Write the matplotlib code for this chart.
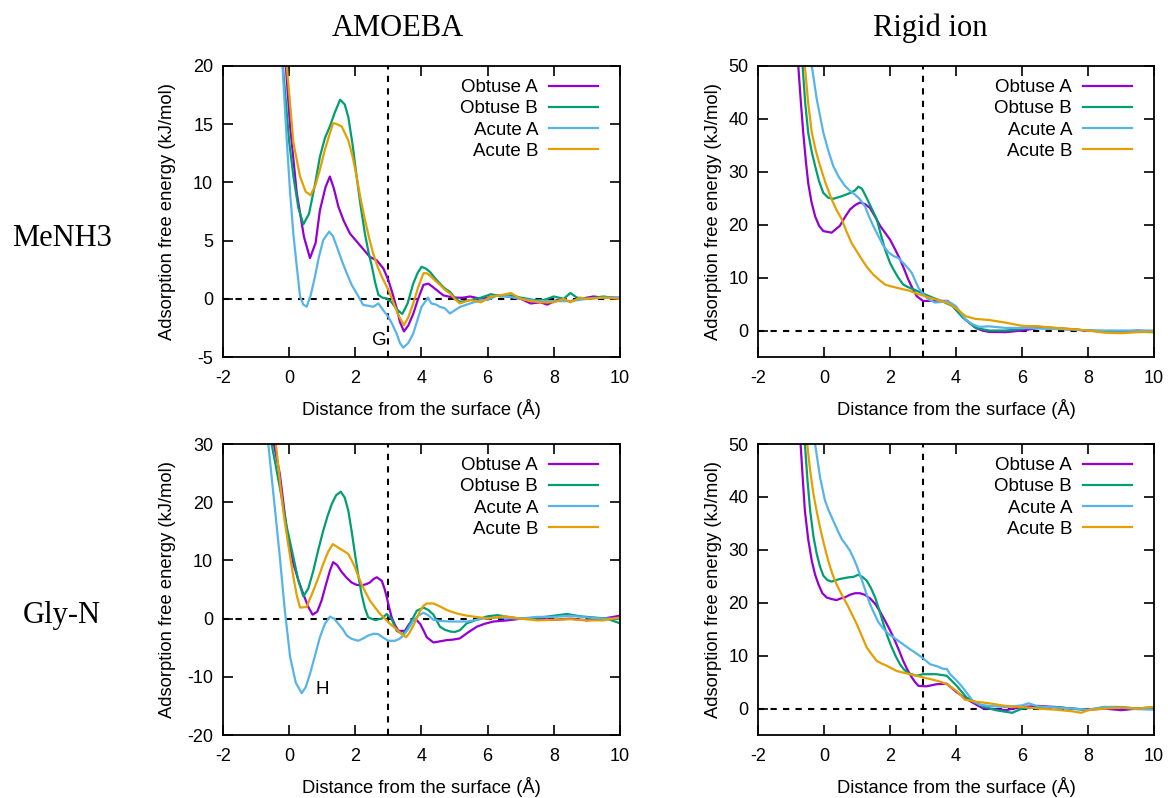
import matplotlib
matplotlib.use('Agg')
import matplotlib.pyplot as plt
import numpy as np

plt.rcParams['font.family'] = ['Liberation Sans', 'DejaVu Sans']
plt.rcParams['axes.unicode_minus'] = False

# 数据 (x, y) : AMOEBA / MeNH3
amoeba_me_obtA = [(-0.25, 28), (-0.10, 20), (0.03, 14.8), (0.23, 9.1), (0.45, 5.3), (0.63, 3.5), (0.80, 4.8),
                  (0.93, 7.6), (1.10, 9.6), (1.23, 10.5), (1.35, 9.5), (1.49, 7.9), (1.65, 6.7), (1.84, 5.6),
                  (2.14, 4.6), (2.44, 3.6), (2.65, 3.3), (2.85, 2.6), (3.00, 1.6), (3.12, 0.5), (3.25, -0.8),
                  (3.35, -2.0), (3.47, -2.8), (3.60, -2.3), (3.75, -1.3), (3.90, 0.0), (4.06, 1.2), (4.21, 1.3),
                  (4.35, 1.0), (4.46, 0.75), (4.66, 0.3), (4.86, 0.17), (5.06, 0.1), (5.26, 0.1), (5.47, 0.2),
                  (5.8, 0.0), (6.0, 0.1), (6.3, 0.3), (6.6, 0.2), (7.0, 0.0), (7.3, -0.4), (7.6, -0.3),
                  (7.8, -0.5), (8.1, -0.1), (8.5, -0.2), (8.8, 0.0), (9.2, 0.2), (9.5, 0.1), (10.0, 0.1)]
amoeba_me_obtB = [(-0.30, 28), (-0.19, 20), (0.0, 13.5), (0.13, 10.5), (0.28, 7.8), (0.43, 6.4), (0.60, 7.3),
                  (0.78, 9.8), (0.93, 12.2), (1.08, 13.8), (1.23, 14.8), (1.38, 16.0), (1.54, 17.1), (1.68, 16.7),
                  (1.79, 15.6), (1.92, 13.2), (2.04, 10.5), (2.16, 8.0), (2.29, 5.6), (2.40, 4.0), (2.50, 2.8),
                  (2.60, 1.4), (2.70, 0.33), (2.82, 0.1), (2.95, 0.04), (3.10, -0.3), (3.25, -0.9), (3.42, -1.3),
                  (3.58, -0.4), (3.75, 1.3), (3.88, 2.2), (4.0, 2.75), (4.13, 2.6), (4.26, 2.3), (4.40, 1.8),
                  (4.56, 1.3), (4.70, 0.9), (4.86, 0.6), (5.0, 0.1), (5.16, -0.26), (5.5, -0.1), (5.8, 0.1),
                  (6.1, 0.4), (6.4, 0.2), (6.7, 0.3), (7.0, 0.1), (7.4, -0.1), (7.7, -0.1), (8.0, 0.2),
                  (8.3, 0.0), (8.5, 0.5), (8.7, 0.1), (9.0, 0.0), (9.5, 0.2), (10.0, 0.0)]
amoeba_me_acuA = [(-0.30, 28), (-0.20, 20), (-0.08, 14), (0.03, 9.1), (0.13, 5.5), (0.23, 2.8), (0.33, 0.2),
                  (0.43, -0.5), (0.53, -0.68), (0.65, 0.3), (0.78, 1.9), (0.90, 3.6), (1.03, 5.05), (1.21, 5.77),
                  (1.32, 5.4), (1.44, 4.5), (1.59, 3.3), (1.74, 2.2), (1.89, 1.2), (2.04, 0.47), (2.24, -0.53),
                  (2.40, -0.6), (2.54, -0.68), (2.70, -0.4), (2.85, -1.0), (3.0, -1.55), (3.12, -2.2),
                  (3.25, -3.0), (3.35, -3.8), (3.45, -4.2), (3.60, -3.8), (3.75, -3.0), (3.88, -1.8),
                  (4.0, -0.7), (4.10, -0.3), (4.19, 0.1), (4.30, -0.4), (4.45, -0.5), (4.56, -0.7), (4.70, -0.8),
                  (4.86, -1.26), (5.0, -1.0), (5.16, -0.7), (5.47, -0.4), (5.8, -0.1), (6.0, -0.1), (6.3, 0.3),
                  (6.6, 0.2), (7.0, 0.0), (7.5, -0.2), (8.0, -0.2), (8.5, -0.2), (9.0, 0.0), (9.5, 0.1), (10.0, 0.1)]
amoeba_me_acuB = [(-0.15, 28), (-0.07, 20), (0.13, 13.4), (0.33, 10.5), (0.50, 9.2), (0.65, 8.9), (0.80, 9.8),
                  (0.93, 11.1), (1.08, 12.8), (1.23, 14.2), (1.33, 15.1), (1.45, 15.0), (1.59, 14.8), (1.79, 13.6),
                  (1.92, 12.2), (2.04, 10.5), (2.16, 8.6), (2.29, 6.8), (2.42, 5.2), (2.54, 3.9), (2.67, 2.8),
                  (2.80, 1.9), (3.0, 0.76), (3.15, -0.3), (3.30, -1.4), (3.47, -2.26), (3.60, -1.6), (3.75, -0.4),
                  (3.90, 1.0), (4.06, 2.2), (4.16, 2.2), (4.26, 2.0), (4.40, 1.6), (4.56, 1.2), (4.70, 0.8),
                  (4.86, 0.46), (5.0, 0.0), (5.16, -0.4), (5.47, -0.1), (5.8, -0.3), (6.1, 0.2), (6.4, 0.3),
                  (6.7, 0.5), (7.0, 0.0), (7.3, -0.2), (7.6, -0.3), (8.0, -0.3), (8.3, 0.0), (8.5, -0.3),
                  (8.8, 0.1), (9.0, 0.0), (9.5, 0.1), (10.0, 0.0)]

# Rigid ion / MeNH3
rigid_me_obtA = [(-0.90, 60), (-0.78, 50), (-0.70, 43), (-0.63, 37.4), (-0.55, 32), (-0.48, 27.9), (-0.38, 24.3),
                 (-0.27, 21.6), (-0.15, 19.8), (-0.02, 18.8), (0.23, 18.5), (0.48, 19.8), (0.64, 21.5),
                 (0.79, 22.9), (0.94, 23.7), (1.09, 24.2), (1.24, 23.9), (1.39, 23.2), (1.55, 21.5), (1.70, 19.8),
                 (1.85, 18.5), (2.0, 17.2), (2.15, 15.4), (2.3, 13.5), (2.43, 11.6), (2.55, 9.7), (2.68, 8.0),
                 (2.81, 6.5), (3.0, 5.6), (3.2, 5.6), (3.5, 5.6), (3.75, 5.6), (4.0, 4.0), (4.3, 2.0),
                 (4.6, 0.5), (4.8, 0.0), (5.0, -0.25), (5.5, -0.3), (6.0, 0.0), (6.5, 0.5), (7.0, 0.4),
                 (7.5, 0.2), (8.0, 0.0), (8.5, -0.2), (9.0, -0.3), (9.5, 0.0), (10.0, -0.2)]
rigid_me_obtB = [(-0.75, 60), (-0.65, 50), (-0.57, 43), (-0.48, 37.4), (-0.38, 34), (-0.27, 31.1), (-0.15, 28.2),
                 (-0.02, 26.0), (0.13, 25.1), (0.28, 24.9), (0.54, 25.4), (0.79, 26.0), (0.94, 26.5),
                 (1.04, 27.2), (1.15, 26.8), (1.29, 25.1), (1.45, 23.0), (1.6, 21.0), (1.72, 18.2), (1.85, 15.3),
                 (2.0, 12.8), (2.1, 11.6), (2.25, 10.0), (2.4, 8.7), (2.55, 8.2), (2.71, 7.8), (3.0, 7.0),
                 (3.3, 6.2), (3.6, 5.5), (3.9, 4.6), (4.2, 2.5), (4.6, 0.5), (5.0, 0.0), (5.5, 0.0),
                 (6.0, 0.3), (6.3, 0.8), (7.0, 0.5), (8.0, 0.0), (9.0, -0.2), (10.0, -0.3)]
rigid_me_acuA = [(-0.45, 60), (-0.37, 50), (-0.22, 43.7), (-0.02, 37.4), (0.13, 34), (0.28, 31.1), (0.45, 29),
                 (0.64, 27.3), (0.79, 26.4), (0.94, 25.7), (1.09, 24.8), (1.24, 23.5), (1.36, 21.6),
                 (1.49, 19.8), (1.65, 17.8), (1.8, 16.0), (1.95, 14.8), (2.1, 14.1), (2.25, 13.7), (2.4, 12.8),
                 (2.53, 11.9), (2.66, 10.9), (2.76, 9.5), (2.86, 8.1), (3.06, 6.5), (3.2, 5.8), (3.36, 5.3),
                 (3.55, 5.4), (3.72, 5.6), (3.85, 5.2), (4.0, 4.6), (4.3, 2.0), (4.5, 1.2), (4.7, 0.7),
                 (5.0, 0.8), (5.5, 0.5), (6.0, 0.5), (6.5, 0.4), (7.0, 0.3), (7.5, 0.2), (8.0, 0.0),
                 (8.5, 0.0), (9.0, 0.0), (10.0, 0.0)]
rigid_me_acuB = [(-0.68, 60), (-0.58, 50), (-0.48, 43), (-0.37, 37.4), (-0.25, 34), (-0.12, 31.1), (0.05, 27.8),
                 (0.23, 24.8), (0.38, 22.8), (0.54, 21.0), (0.69, 18.6), (0.84, 16.5), (1.0, 14.9), (1.14, 13.5),
                 (1.3, 12.0), (1.49, 10.6), (1.67, 9.6), (1.85, 8.7), (2.0, 8.4), (2.2, 8.1), (2.4, 7.8),
                 (2.61, 7.5), (2.8, 7.0), (3.0, 6.6), (3.25, 6.1), (3.5, 5.7), (3.75, 5.2), (4.0, 4.2),
                 (4.3, 2.7), (4.6, 2.2), (5.0, 2.0), (5.5, 1.5), (6.0, 0.9), (6.5, 0.8), (7.0, 0.5),
                 (7.5, 0.3), (8.0, 0.0), (8.5, -0.4), (9.0, -0.5), (9.5, -0.3), (10.0, -0.2)]

# AMOEBA / Gly-N
amoeba_gly_obtA = [(-0.58, 40), (-0.46, 30), (-0.28, 24.8), (-0.07, 15.1), (0.13, 9.4), (0.28, 6.6), (0.43, 4.2),
                   (0.58, 2.0), (0.71, 0.67), (0.85, 1.2), (0.98, 3.1), (1.1, 5.6), (1.23, 8.2), (1.33, 9.7),
                   (1.45, 9.2), (1.59, 8.0), (1.74, 7.0), (1.89, 6.2), (2.04, 5.8), (2.19, 5.7), (2.32, 5.9),
                   (2.44, 6.2), (2.55, 6.8), (2.65, 7.1), (2.80, 6.5), (2.88, 5.2), (2.95, 3.7), (3.02, 2.0),
                   (3.1, 0.2), (3.2, -1.1), (3.3, -2.1), (3.5, -2.1), (3.62, -1.0), (3.75, -0.07), (3.86, -0.3),
                   (3.96, -0.9), (4.06, -2.0), (4.16, -3.2), (4.36, -4.1), (4.56, -3.9), (4.76, -3.7),
                   (4.96, -3.6), (5.16, -3.4), (5.4, -2.4), (5.67, -1.4), (5.9, -0.9), (6.17, -0.5), (6.6, -0.3),
                   (7.0, 0.0), (7.5, 0.0), (8.0, -0.2), (8.5, 0.0), (9.0, -0.3), (9.5, 0.0), (10.0, 0.5)]
amoeba_gly_obtB = [(-0.65, 40), (-0.53, 30), (-0.28, 22.5), (-0.07, 15.7), (0.13, 10.5), (0.28, 6.5), (0.43, 3.8),
                   (0.58, 5.2), (0.73, 8.2), (0.88, 11.8), (1.03, 15.1), (1.16, 17.6), (1.29, 19.7), (1.42, 21.2),
                   (1.56, 21.8), (1.68, 20.8), (1.79, 18.5), (1.89, 15.0), (1.99, 11.1), (2.09, 7.4), (2.19, 4.2),
                   (2.29, 1.8), (2.39, 0.2), (2.6, -0.25), (2.8, 0.0), (2.95, 0.8), (3.1, -0.1), (3.25, -2.1),
                   (3.43, -2.65), (3.55, -2.0), (3.65, -0.9), (3.76, 0.3), (3.86, 1.36), (4.06, 1.9), (4.2, 1.5),
                   (4.36, 0.7), (4.56, -1.4), (4.7, -1.9), (4.86, -2.2), (5.0, -2.3), (5.16, -2.0), (5.37, -0.8),
                   (5.67, -0.2), (6.0, 0.4), (6.3, 0.6), (6.6, 0.3), (7.0, 0.0), (7.3, 0.1), (7.6, 0.2),
                   (8.0, 0.5), (8.4, 0.8), (8.8, 0.4), (9.2, 0.2), (9.6, 0.0), (10.0, -0.8)]
amoeba_gly_acuA = [(-0.75, 40), (-0.63, 30), (-0.45, 20), (-0.28, 10.5), (-0.13, 1.4), (0.03, -6.6), (0.2, -11.0),
                   (0.38, -12.8), (0.50, -11.8), (0.63, -9.5), (0.78, -6.4), (0.93, -3.2), (1.08, -0.9),
                   (1.23, 0.33), (1.36, 0.0), (1.49, -0.9), (1.62, -1.8), (1.74, -2.9), (1.9, -3.5), (2.09, -3.8),
                   (2.24, -3.4), (2.39, -2.9), (2.55, -2.6), (2.69, -2.65), (2.85, -3.3), (3.0, -3.8),
                   (3.2, -3.8), (3.33, -3.5), (3.45, -2.9), (3.6, -1.8), (3.75, -0.36), (3.9, 0.5), (4.06, 1.0),
                   (4.2, 0.6), (4.36, -0.2), (4.6, -0.4), (4.86, -0.5), (5.37, -0.5), (5.87, 0.0), (6.3, 0.2),
                   (7.0, 0.0), (7.5, 0.3), (8.0, 0.3), (8.5, 0.5), (9.0, 0.2), (9.5, 0.0), (10.0, 0.0)]
amoeba_gly_acuB = [(-0.52, 40), (-0.40, 30), (-0.18, 18.5), (-0.03, 12.8), (0.13, 7.1), (0.23, 4.0), (0.33, 1.9),
                   (0.53, 2.0), (0.73, 4.8), (0.88, 7.0), (1.03, 9.4), (1.18, 11.5), (1.32, 12.8), (1.43, 12.4),
                   (1.54, 12.0), (1.66, 11.6), (1.79, 11.1), (1.89, 10.0), (1.99, 8.8), (2.09, 7.3), (2.19, 5.9),
                   (2.32, 4.4), (2.44, 3.1), (2.6, 1.9), (2.75, 0.8), (2.9, 0.0), (3.05, -0.9), (3.2, -1.6),
                   (3.35, -2.4), (3.53, -3.2), (3.62, -2.6), (3.7, -1.8), (3.83, -0.3), (3.96, 1.36), (4.06, 2.2),
                   (4.16, 2.6), (4.36, 2.6), (4.56, 2.1), (4.76, 1.5), (4.9, 1.2), (5.06, 0.9), (5.37, 0.5),
                   (5.77, 0.2), (6.0, 0.0), (6.5, 0.4), (7.0, 0.0), (7.5, -0.3), (8.0, -0.2), (8.5, -0.1),
                   (9.0, -0.3), (9.5, -0.3), (10.0, 0.2)]

# Rigid ion / Gly-N
rigid_gly_obtA = [(-0.82, 60), (-0.71, 50), (-0.64, 43), (-0.58, 37.4), (-0.48, 32), (-0.37, 27.9), (-0.27, 25.3),
                  (-0.17, 23.5), (-0.05, 21.8), (0.08, 21.0), (0.23, 20.7), (0.38, 20.5), (0.5, 20.8),
                  (0.63, 21.0), (0.78, 21.5), (0.94, 21.8), (1.09, 21.8), (1.24, 21.5), (1.4, 20.8),
                  (1.55, 19.8), (1.7, 18.3), (1.85, 16.6), (2.0, 14.8), (2.15, 12.8), (2.28, 10.9), (2.4, 9.0),
                  (2.53, 7.3), (2.66, 5.9), (2.76, 5.0), (2.86, 4.3), (3.1, 4.2), (3.41, 4.6), (3.72, 4.7),
                  (4.02, 3.1), (4.32, 1.8), (4.6, 0.8), (4.83, 0.0), (5.0, 0.0), (5.5, -0.3), (6.0, 0.3),
                  (6.5, 0.5), (7.0, 0.3), (7.5, 0.0), (8.0, -0.2), (8.5, 0.0), (9.0, -0.3), (9.5, 0.0), (10.0, 0.0)]
rigid_gly_obtB = [(-0.68, 60), (-0.58, 50), (-0.50, 43), (-0.42, 37.4), (-0.32, 32.5), (-0.22, 29.2),
                  (-0.12, 26.8), (-0.02, 25.1), (0.1, 24.3), (0.23, 24.0), (0.48, 24.5), (0.74, 24.8),
                  (0.9, 24.9), (1.04, 25.3), (1.16, 24.9), (1.29, 24.2), (1.42, 22.8), (1.55, 21.0), (1.68, 18.5),
                  (1.8, 16.0), (1.92, 13.7), (2.05, 11.6), (2.18, 9.8), (2.3, 8.4), (2.42, 7.4), (2.55, 6.7),
                  (2.8, 6.2), (3.0, 6.5), (3.4, 6.5), (3.72, 6.2), (4.02, 4.3), (4.32, 2.1), (4.6, 1.2),
                  (4.8, 0.4), (5.2, -0.3), (5.7, -0.8), (6.0, 0.0), (6.5, 0.2), (7.0, 0.3), (7.5, 0.0),
                  (8.0, -0.3), (8.5, 0.3), (9.0, 0.3), (9.5, 0.0), (10.0, 0.3)]
rigid_gly_acuA = [(-0.38, 60), (-0.27, 50), (-0.12, 43.7), (0.03, 39.3), (0.15, 37.3), (0.28, 35.5), (0.41, 33.7),
                  (0.54, 32.0), (0.66, 31.0), (0.79, 29.8), (0.89, 28.5), (0.99, 27.0), (1.09, 25.3),
                  (1.19, 23.5), (1.29, 21.6), (1.39, 19.8), (1.52, 18.0), (1.65, 16.3), (1.8, 15.1), (1.95, 14.1),
                  (2.1, 13.5), (2.25, 12.8), (2.43, 12.0), (2.61, 11.2), (2.78, 10.5), (2.96, 9.7), (3.1, 9.0),
                  (3.21, 8.4), (3.42, 8.0), (3.62, 7.5), (3.72, 7.5), (3.82, 6.5), (3.97, 5.6), (4.12, 4.6),
                  (4.25, 3.6), (4.37, 2.6), (4.53, 1.3), (4.75, 0.7), (5.0, 0.5), (5.5, 0.3), (6.0, 0.6),
                  (6.2, 1.0), (6.5, 0.4), (7.0, 0.2), (7.5, 0.0), (8.0, -0.2), (8.5, 0.3), (9.0, 0.2),
                  (9.5, -0.1), (10.0, -0.2)]
rigid_gly_acuB = [(-0.60, 60), (-0.51, 50), (-0.42, 45), (-0.32, 40.5), (-0.22, 37.2), (-0.12, 34.2), (0.0, 31.0),
                  (0.13, 27.9), (0.25, 25.5), (0.38, 23.5), (0.53, 21.6), (0.69, 19.8), (0.84, 17.9), (0.99, 16.0),
                  (1.14, 13.8), (1.29, 11.6), (1.45, 10.2), (1.6, 9.0), (1.75, 8.5), (1.9, 8.1), (2.05, 7.6),
                  (2.2, 7.1), (2.4, 6.8), (2.61, 6.5), (2.8, 6.2), (3.0, 5.9), (3.2, 5.6), (3.4, 5.3),
                  (3.56, 5.0), (3.72, 4.6), (3.87, 4.0), (4.02, 3.3), (4.15, 2.5), (4.27, 1.7), (4.6, 1.3),
                  (5.0, 1.0), (5.5, 0.5), (6.0, 0.3), (6.5, 0.0), (7.0, -0.2), (7.5, -0.5), (7.8, -0.8),
                  (8.0, -0.3), (8.5, 0.0), (9.0, 0.2), (9.5, 0.0), (10.0, 0.3)]

labels = ['Obtuse A', 'Obtuse B', 'Acute A', 'Acute B']
colors = ['#9400d3', '#009e73', '#56b4e9', '#e69f00']

# 面板: 数据, y范围, y刻度, 坐标轴位置, ylabel位置
panels = [
    ([amoeba_me_obtA, amoeba_me_obtB, amoeba_me_acuA, amoeba_me_acuB], (-5, 20), np.arange(-5, 21, 5),
     [0.1909, 0.5526, 0.3399, 0.3647], -0.118),
    ([rigid_me_obtA, rigid_me_obtB, rigid_me_acuA, rigid_me_acuB], (-5, 50), np.arange(0, 51, 10),
     [0.6490, 0.5526, 0.3390, 0.3647], -0.091),
    ([amoeba_gly_obtA, amoeba_gly_obtB, amoeba_gly_acuA, amoeba_gly_acuB], (-20, 30), np.arange(-20, 31, 10),
     [0.1909, 0.0789, 0.3399, 0.3647], -0.118),
    ([rigid_gly_obtA, rigid_gly_obtB, rigid_gly_acuA, rigid_gly_acuB], (-5, 50), np.arange(0, 51, 10),
     [0.6490, 0.0789, 0.3390, 0.3647], -0.091),
]

fig = plt.figure(figsize=(11.68, 7.98), dpi=100)
axes = []
for series, ylim, yticks, pos, ylab_x in panels:
    ax = fig.add_axes(pos)
    for data, lab, c in zip(series, labels, colors):
        d = np.array(data)
        ax.plot(d[:, 0], d[:, 1], color=c, lw=1.6, label=lab)
    ax.axhline(0, color='black', lw=1.5, dashes=(3, 3), zorder=1)
    ax.axvline(3, color='black', lw=1.5, dashes=(3, 3), zorder=1)
    ax.set_xlim(-2, 10)
    ax.set_ylim(ylim)
    ax.set_xticks(np.arange(-2, 11, 2))
    ax.set_yticks(yticks)
    ax.tick_params(direction='in', length=7, width=1.2, top=True, right=True, labelsize=13)
    ax.tick_params(axis='x', pad=9)
    ax.tick_params(axis='y', pad=7)
    for s in ax.spines.values():
        s.set_linewidth(1.3)
    ax.set_xlabel('Distance from the surface (Å)', fontsize=13.2)
    ax.set_ylabel('Adsorption free energy (kJ/mol)', fontsize=13.2)
    ax.xaxis.set_label_coords(0.5, -0.145)
    ax.yaxis.set_label_coords(ylab_x, 0.5)
    ax.legend(loc='upper right', bbox_to_anchor=(0.945, 0.955), frameon=False, markerfirst=False,
              fontsize=13.5, handlelength=2.6, handletextpad=0.6, labelspacing=0.22,
              borderpad=0, borderaxespad=0)
    axes.append(ax)

axes[0].text(2.73, -3.6, 'G', fontsize=13.5, ha='center', va='center')
axes[2].text(1.01, -12.1, 'H', fontsize=13.5, ha='center', va='center')

serif = ['Liberation Serif', 'DejaVu Serif']
fig.text(398 / 1168, 1 - 28 / 798, 'AMOEBA', family=serif, fontsize=22, ha='center', va='center')
fig.text(930 / 1168, 1 - 28 / 798, 'Rigid ion', family=serif, fontsize=22, ha='center', va='center')
fig.text(62 / 1168, 1 - 238 / 798, 'MeNH3', family=serif, fontsize=22, ha='center', va='center')
fig.text(62 / 1168, 1 - 616 / 798, 'Gly-N', family=serif, fontsize=22, ha='center', va='center')

plt.savefig('out.png', dpi=100)
